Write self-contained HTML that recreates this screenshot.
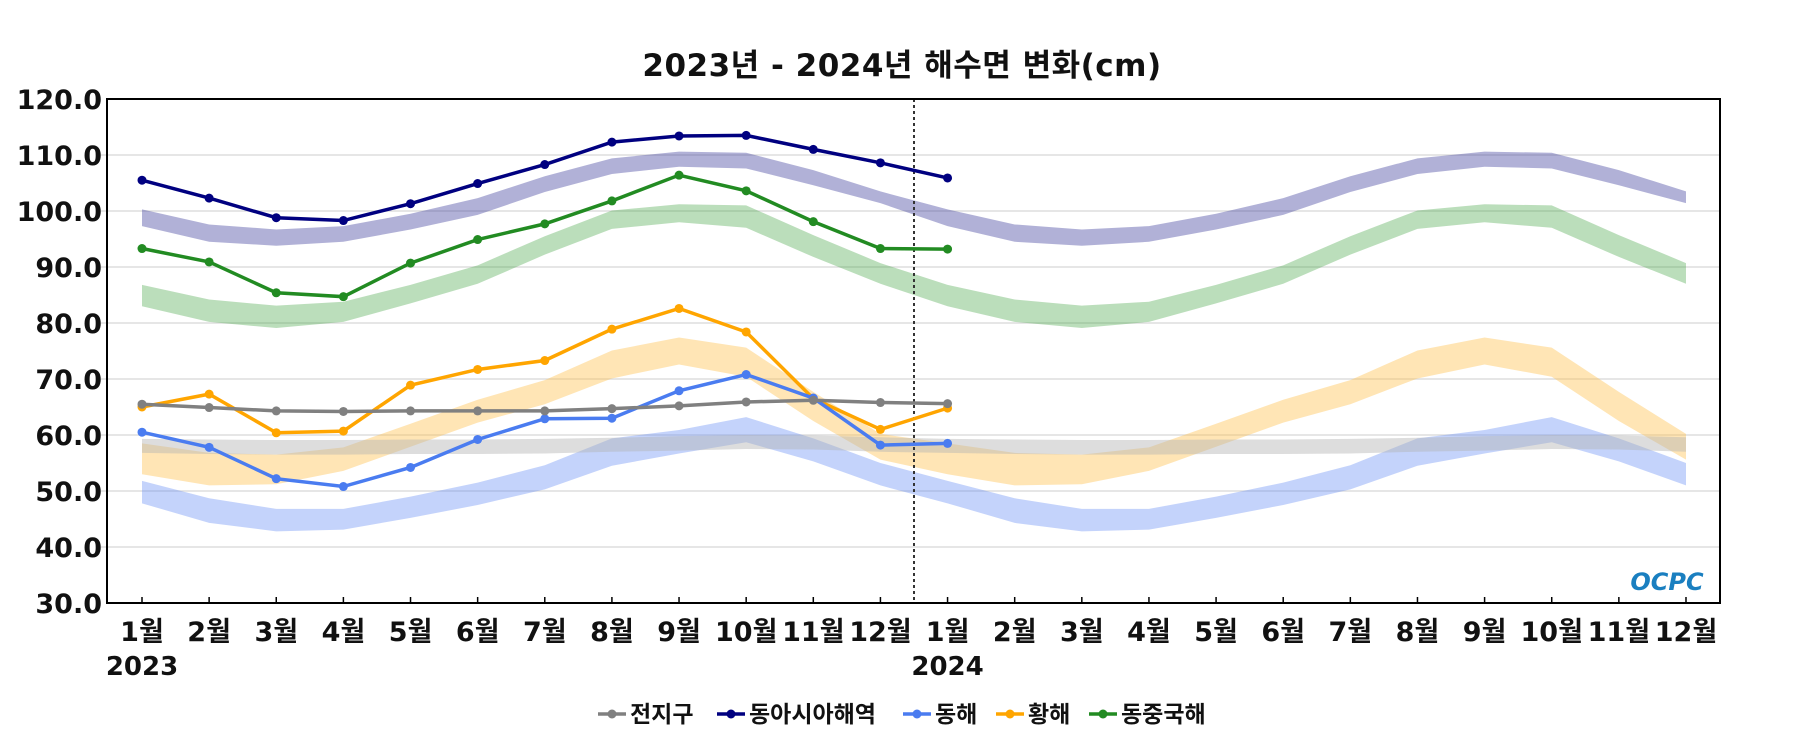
<!DOCTYPE html>
<html><head><meta charset="utf-8">
<style>
html,body{margin:0;padding:0;background:#fff;}
svg{display:block;font-family:"DejaVu Sans","Noto Sans CJK KR",sans-serif;}
</style></head>
<body>
<svg id="chart" width="1800" height="750" viewBox="0 0 1800 750" xmlns="http://www.w3.org/2000/svg">
<text x="902" y="76" text-anchor="middle" font-size="31" font-weight="bold" fill="#111" letter-spacing="0.5">2023년 - 2024년 해수면 변화(cm)</text>
<g id="grid"></g>
<g id="bands"></g>
<g id="lines"></g>
<g id="axes"></g>
<text x="1667" y="590" text-anchor="middle" font-size="24" font-weight="bold" fill="#1a7fc0" font-style="italic">OCPC</text>
<g id="legend"></g>
</svg>
<script>
const yTicks=[30,40,50,60,70,80,90,100,110,120];
const monthLabels=["1월","2월","3월","4월","5월","6월","7월","8월","9월","10월","11월","12월","1월","2월","3월","4월","5월","6월","7월","8월","9월","10월","11월","12월"];
const yearLabels=["2023","2024"];
const seriesNames=["전지구","동아시아해역","동해","황해","동중국해"];
const globalVals=[65.5,64.9,64.3,64.2,64.3,64.3,64.3,64.7,65.2,65.9,66.2,65.8,65.6];
const eastAsiaVals=[105.5,102.3,98.8,98.3,101.3,104.9,108.3,112.3,113.4,113.5,111.0,108.6,105.9];
const eastSeaVals=[60.5,57.8,52.2,50.8,54.2,59.2,62.9,63.0,67.9,70.8,66.6,58.2,58.5];
const yellowSeaVals=[65.0,67.3,60.4,60.7,68.9,71.7,73.3,78.9,82.6,78.4,66.5,61.0,64.8];
const ecsVals=[93.3,90.9,85.4,84.7,90.7,94.9,97.7,101.8,106.4,103.6,98.1,93.3,93.2];
const eastAsiaHi=[100.3,97.6,96.7,97.3,99.5,102.3,106.2,109.4,110.6,110.4,107.3,103.5];
const eastAsiaLo=[97.3,94.5,93.8,94.5,96.7,99.3,103.4,106.6,107.9,107.6,104.6,101.4];
const ecsHi=[86.8,84.2,83.1,83.8,86.8,90.3,95.5,100.1,101.2,101.0,95.7,90.7];
const ecsLo=[83.0,80.2,79.1,80.2,83.5,87.0,92.2,96.8,98.0,97.0,91.8,87.0];
const yellowHi=[58.5,56.8,56.5,57.8,62.0,66.3,69.8,75.1,77.4,75.6,67.7,60.2];
const yellowLo=[53.0,51.0,51.2,53.6,57.9,62.2,65.5,70.1,72.6,70.4,62.5,55.6];
const eastSeaHi=[51.8,48.7,46.8,46.8,49.0,51.5,54.6,59.4,60.9,63.2,59.4,55.0];
const eastSeaLo=[47.8,44.3,42.8,43.1,45.2,47.5,50.3,54.5,56.7,58.7,55.3,51.0];
const globalHi=[59.3,59.2,59.1,59.1,59.2,59.2,59.3,59.5,59.8,60.0,59.9,59.6];
const globalLo=[56.8,56.6,56.5,56.5,56.6,56.6,56.7,57.0,57.2,57.5,57.4,57.0];

const NS="http://www.w3.org/2000/svg";
const L=107,R=1720,T=99,B=603,X0=142,DX=67.13;
const xs=i=>X0+i*DX;
const ys=v=>B-(v-30)/90*(B-T);
function mk(tag,attrs,parent){const e=document.createElementNS(NS,tag);for(const k in attrs)e.setAttribute(k,attrs[k]);parent.appendChild(e);return e;}
const grid=document.getElementById('grid'),bands=document.getElementById('bands'),lines=document.getElementById('lines'),axes=document.getElementById('axes'),legend=document.getElementById('legend');

yTicks.forEach(v=>{
  if(v>30&&v<120){const g=mk('line',{x1:L-6,x2:R,y1:ys(v),y2:ys(v),stroke:'#dedede','stroke-width':1.5},grid);
  
  }
  const t=mk('text',{x:L-5,y:ys(v)+10,'text-anchor':'end','font-size':27,'font-weight':'bold',fill:'#111'},axes);
  t.textContent=v.toFixed(1);
  
  
});

const bandDefs=[[eastAsiaHi,eastAsiaLo,'rgba(70,70,160,0.42)'],[ecsHi,ecsLo,'rgba(60,160,60,0.35)'],[yellowHi,yellowLo,'rgba(255,190,70,0.4)'],[eastSeaHi,eastSeaLo,'rgba(100,140,245,0.38)'],[globalHi,globalLo,'rgba(180,180,180,0.45)']];
const bandNames=['east-asia-band','east-china-sea-band','yellow-sea-band','east-sea-band','global-band'];
bandDefs.forEach((bd,k)=>{
  const hi=bd[0].concat(bd[0]),lo=bd[1].concat(bd[1]);
  let d='';
  hi.forEach((v,i)=>{d+=(i?'L':'M')+xs(i)+','+ys(v);});
  for(let i=lo.length-1;i>=0;i--)d+='L'+xs(i)+','+ys(lo[i]);
  const p=mk('path',{d:d+'Z',fill:bd[2]},bands);
  
  
});

const dv=mk('line',{x1:(xs(11)+xs(12))/2,x2:(xs(11)+xs(12))/2,y1:T,y2:B,stroke:'#333','stroke-width':2,'stroke-dasharray':'3,3'},lines);



const colors=['#808080','#000080','#4a7cf0','#ffa500','#228b22'];
const vals=[globalVals,eastAsiaVals,eastSeaVals,yellowSeaVals,ecsVals];
const lineNames=['global-line','east-asia-line','east-sea-line','yellow-sea-line','east-china-sea-line'];
[3,2,0,4,1].forEach(k=>{
  const v=vals[k];
  const pl=mk('polyline',{points:v.map((y,i)=>xs(i)+','+ys(y)).join(' '),fill:'none',stroke:colors[k],'stroke-width':3.5},lines);
  
  
  v.forEach((y,i)=>{const c=mk('circle',{cx:xs(i),cy:ys(y),r:4.5,fill:colors[k]},lines);
    
    });
});

const fr=mk('rect',{x:L,y:T,width:R-L,height:B-T,fill:'none',stroke:'#000','stroke-width':2},axes);


monthLabels.forEach((m,i)=>{
  const tk=mk('line',{x1:xs(i),x2:xs(i),y1:B-6,y2:B,stroke:'#000','stroke-width':1.5},axes);
  
  
  const t=mk('text',{x:xs(i),y:641,'text-anchor':'middle','font-size':27,'font-weight':'bold',fill:'#111'},axes);
  t.textContent=m;
  
  
});
yearLabels.forEach((yl,k)=>{
  const t=mk('text',{x:xs(k*12),y:675,'text-anchor':'middle','font-size':26,'font-weight':'bold',fill:'#111'},axes);
  t.textContent=yl;
  
  
});

const legX=[598,717,903,996,1089];
seriesNames.forEach((n,k)=>{
  const g=mk('g',{},legend);
  
  
  mk('line',{x1:legX[k],x2:legX[k]+28,y1:714,y2:714,stroke:colors[k],'stroke-width':3.5},g);
  mk('circle',{cx:legX[k]+14,cy:714,r:4.5,fill:colors[k]},g);
  const t=mk('text',{x:legX[k]+32,y:722,'font-size':23,'font-weight':'bold',fill:'#111'},g);
  t.textContent=n;
});
</script>
</body></html>
